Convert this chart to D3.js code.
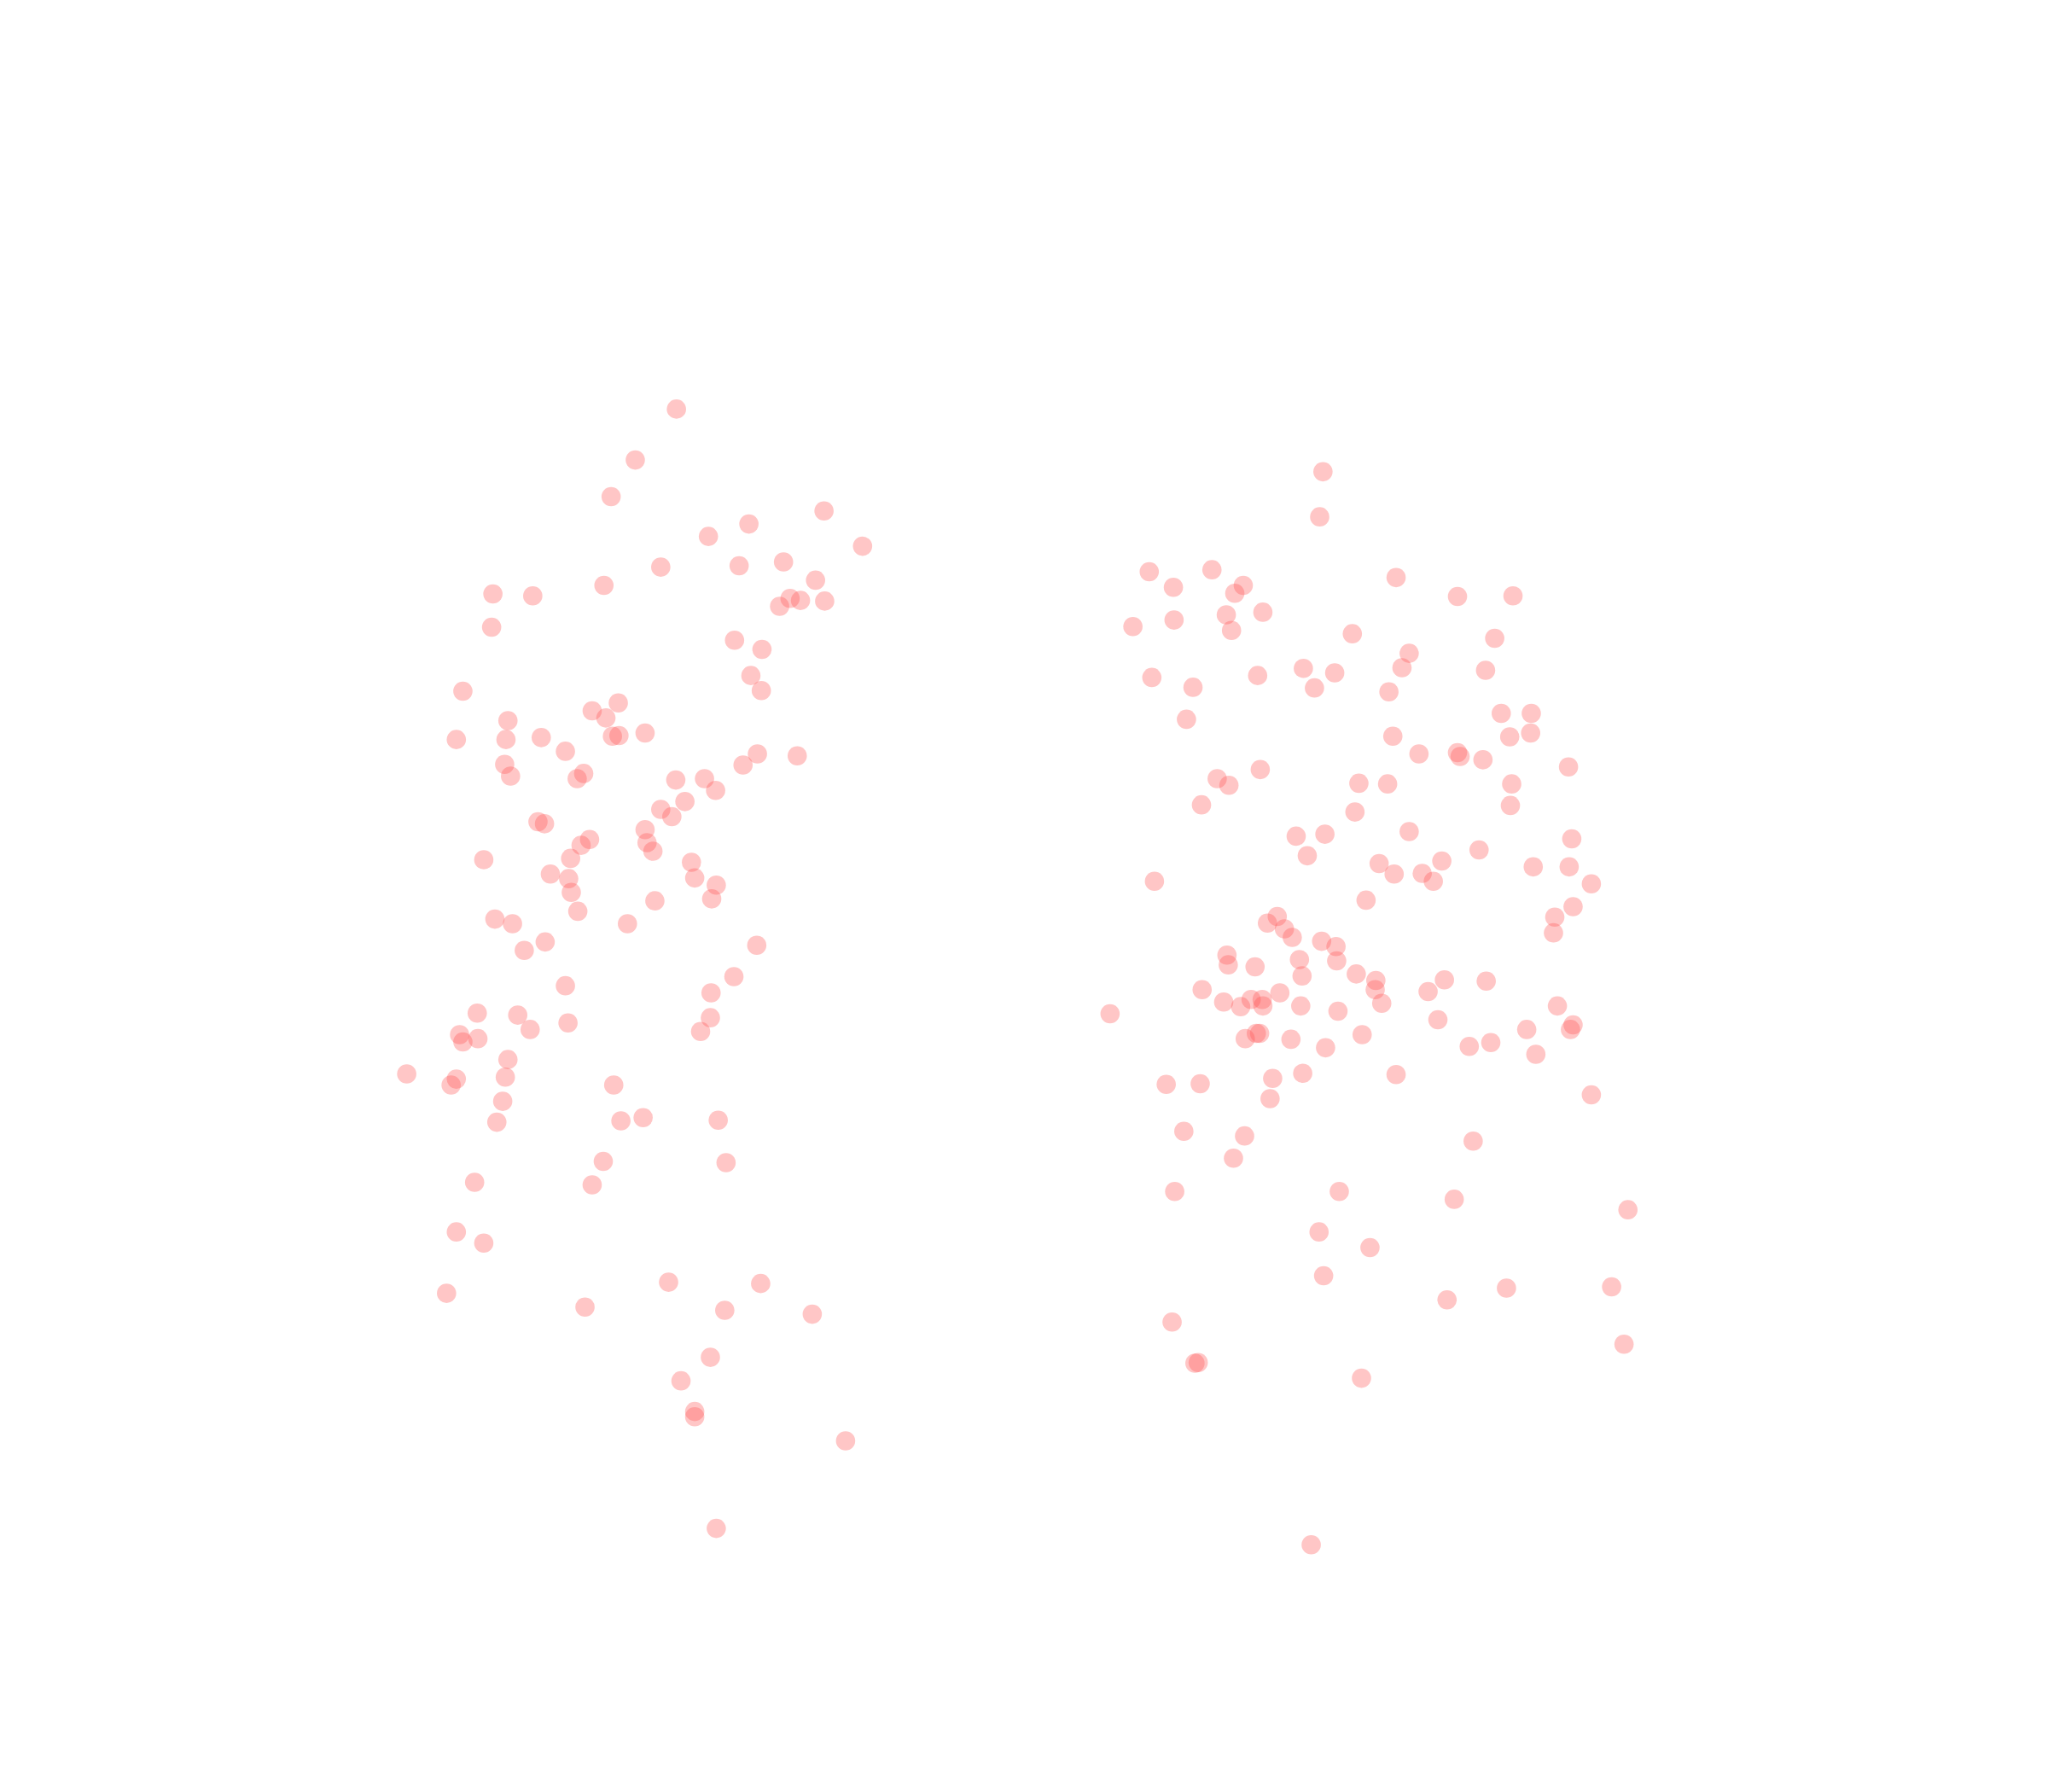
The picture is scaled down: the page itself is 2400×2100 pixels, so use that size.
<!DOCTYPE html>
<html><head><meta charset="utf-8">
<script src="https://cdn.jsdelivr.net/npm/d3@7"></script>
<style>html,body{margin:0;padding:0;background:#fff}svg{display:block}</style>
</head><body><div id="chart"></div>
<script>
const leftX=[517.5,486,467.5,630.5,573,542,660,599.5,505.5,565.5,624,462,377,407.5,604.5,612.5,631,596.5,376,562,583,574.5,582.5,354,473,453,463.5,388.5,493.5,468.5,473.5,349,387,414,432.5,579.5,610,386,568.5,446.5,441.5,390.5,517,539,547.5,524,505.5,514,411.5,416.5,493.5,451,444.5,495,499.5,436.5,370,529,421,435,531.5,548,437,544.5,501,442,378.5,392,480,417,579,401,561.5,432.5,544,365,396,543.5,434.5,405.5,536,351.5,365.5,354,388.5,311,386.5,349,345,469.5,384.5,475,492,549.5,380,461.5,555.5,363,453,349,370,511.5,582,341.5,447.5,554.5,621.5,543.5,521,531.5,531.5,647,548];
const leftY=[313,352,380,391,401,410.5,418,430,434,433,444,448,454.5,456,458,459.5,460,464,480,490,497,517,528.5,529,538,544,549.5,551.5,561,563.5,563,566,566,564.5,575,577,578.5,585,585.5,592,596,594,597,596,605,613.5,619.5,625,629,630.5,635,642.5,647,645,651.5,657,658,660,669,672.5,672,677.5,683,688,689.5,697.5,703.5,707,707,721,723.5,727.5,747.5,754.5,760,775.5,777,779,783,788,789.5,792,795,797.5,811,822,824.5,826,830.5,830.5,843,858,855.5,857.5,859,889,890,905,907,943,951.5,981.5,982.5,990,1000.5,1003,1006,1039,1057,1080.5,1084.5,1103,1170];
const rightX=[1012.5,1010,879.5,927.5,951.5,898,945,1068.5,1115.5,1158,938.5,966.5,898.5,867,942.5,1035,1144,1078.5,1073,1137,997.5,1021.5,881.5,962.5,913,1006,1063,908,1149,1172,1171.5,1155.5,1066,1086,1115.5,1117.5,1135,1200.5,964.5,931.5,940.5,1040,1062,1157,919.5,1156,1037,1078.5,992,1014,1203,1132,1000.5,1055.5,1103.5,1173.5,1201,1067,1088.5,1097,883.5,1218,1045.5,1204,977.5,970,1190,983,1189,989,1011.5,1022.5,939,940,1023,994.5,960.5,1038,996.5,1053,1105.5,1137.5,1052.5,920,1093,979.5,936.5,957.5,966,949.5,966.5,995.5,1057.5,1192,1024,849.5,1100.5,1204,1168.5,1202,961.5,964,1042.5,953,988,1141,1124.5,1014.5,1175.5,997,1068.5,974,892.5,918.5,1218,972,906,952.5,1127.5,944,899,1025,1113,1246,1009.5,1048.5,1013,1153,1233.5,1107.5,897,1243,914.5,917,1042,1003.5];
const rightY=[361,395.5,437.5,436,448,449.5,454,442,456.5,456,470.5,468.5,474.5,479.5,482.5,485,488.5,500,511,513,511.5,515,518.5,517,526,526.5,529.5,550.5,546,546,561,564,563.5,577,576,579,581.5,587,589,596,601,599.5,600,600,616,616.5,621.5,636.5,640,638.5,642,650.5,655,661,659,663.5,663.5,669,668.5,674.5,674.5,676.5,689,694,701.5,706.5,702,711,714,717.5,720.5,724.5,731,738.5,735.5,734.5,740,745.5,747,750.5,750,751,757.5,757.5,759,760,767,765,765,770.5,770,770,768,770,774,776,780.5,784.5,788,788,791,791,792,795,795.5,798,801,802,807,821.5,822.5,825.5,830,829.5,838,841,866,869.5,873.5,886.5,912,912,918,926,943,955,976.5,986,985,995,1012,1029,1043.5,1043,1055,1182.5];

const width=2400,height=2100;
const x=d3.scaleLinear().domain([0,1568]).range([0.6,width+0.6]);
const y=d3.scaleLinear().domain([0,1372]).range([0.3,height+0.3]);
const points=leftX.map((v,i)=>[v,leftY[i]]).concat(rightX.map((v,i)=>[v,rightY[i]]));
const svg=d3.select("#chart").append("svg").attr("width",width).attr("height",height);
svg.append("rect").attr("width",width).attr("height",height).attr("fill","#fff");
svg.append("g").selectAll("circle").data(points).join("circle")
  .attr("cx",d=>x(d[0])).attr("cy",d=>y(d[1])).attr("r",11.3)
  .attr("fill","#ff5252").attr("fill-opacity",0.33);
</script></body></html>
